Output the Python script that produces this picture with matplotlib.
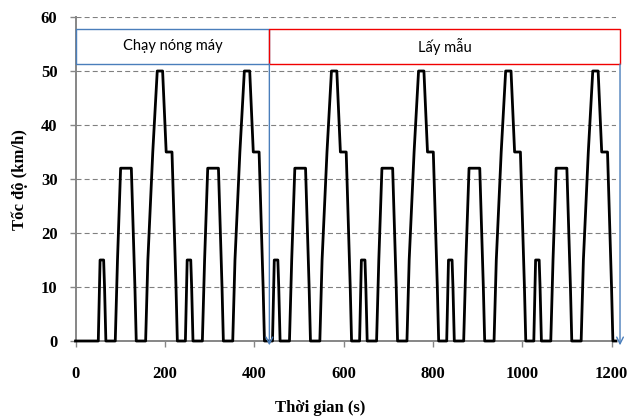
import numpy as np
import matplotlib.pyplot as plt
from matplotlib.patches import Rectangle

# ECE-15 urban cycle breakpoints (s, km/h)
cycle_t = [0, 11, 15, 23, 25, 28, 49, 54, 61, 85, 93, 96, 117, 122,
           133, 143, 155, 163, 176, 185, 188, 195]
cycle_v = [0, 0, 15, 15, 10, 0, 0, 15, 32, 32, 10, 0, 0, 15,
           35, 50, 50, 35, 35, 10, 0, 0]
idle_start = 40
n_cycles = 6
n_warm = 2
warm_label = 'Chạy nóng máy'
sample_label = 'Lấy mẫu'
box_end = 1219

t = [0]
v = [0]
for k in range(n_cycles):
    off = idle_start + k * cycle_t[-1]
    t += [off + c for c in cycle_t]
    v += cycle_v
t = np.array(t)
v = np.array(v)
split = idle_start + n_warm * cycle_t[-1] + 4

serif = ['Liberation Serif', 'DejaVu Serif']
blue = '#4A7EBB'
red = '#F00000'
grey = '#868686'

fig = plt.figure(figsize=(6.38, 4.17), dpi=100)
ax = fig.add_axes([75.5/638, 1-341/417, (616-75.5)/638, (341-17)/417])

ax.plot(t, v, color='black', lw=2.0, zorder=3, clip_on=False)

ax.set_xlim(0, 1210)
ax.set_ylim(0, 60)
ax.set_xticks(np.arange(0, 1201, 200))
ax.set_yticks(np.arange(0, 61, 10))
for y in np.arange(10, 61, 10):
    ax.axhline(y, color='#808080', lw=0.8, ls=(0, (4.5, 2.8)), zorder=1)

for s in ['top', 'right']:
    ax.spines[s].set_visible(False)
for s in ['left', 'bottom']:
    ax.spines[s].set_color(grey)
    ax.spines[s].set_linewidth(1.4)
ax.tick_params(direction='out', length=4, width=1, color=grey, pad=9)
for lab in ax.get_xticklabels() + ax.get_yticklabels():
    lab.set_family(serif)
    lab.set_fontweight('bold')
    lab.set_fontsize(12)
ax.tick_params(axis='x', pad=14)

# phase boxes
y0, y1 = 51.3, 57.8
ax.add_patch(Rectangle((0, y0), split, y1 - y0, fill=False, ec=blue, lw=1.0,
                       clip_on=False, zorder=4))
ax.add_patch(Rectangle((split, y0), box_end - split, y1 - y0, fill=False, ec=red,
                       lw=1.0, clip_on=False, zorder=4))
ax.text(split / 2, (y0 + y1) / 2, warm_label, ha='center', va='center',
        fontsize=10.5, family=['Lato', 'DejaVu Sans'])
ax.text((split + box_end) / 2, (y0 + y1) / 2, sample_label, ha='center',
        va='center', fontsize=10.5, family=['Lato', 'DejaVu Sans'])

for x in [split, box_end]:
    ax.annotate('', xy=(x, -0.8), xytext=(x, y0),
                arrowprops=dict(arrowstyle='->', color=blue, lw=1.0,
                                shrinkA=0, shrinkB=0, mutation_scale=12),
                annotation_clip=False, zorder=4)

fig.text(20/638, 1-180/417, 'Tốc độ (km/h)', rotation=90, ha='center',
         va='center', family=serif, fontweight='bold', fontsize=12)
fig.text(320/638, 1-408/417, 'Thời gian (s)', ha='center', va='center',
         family=serif, fontweight='bold', fontsize=12)

fig.savefig('out.png', dpi=100)
